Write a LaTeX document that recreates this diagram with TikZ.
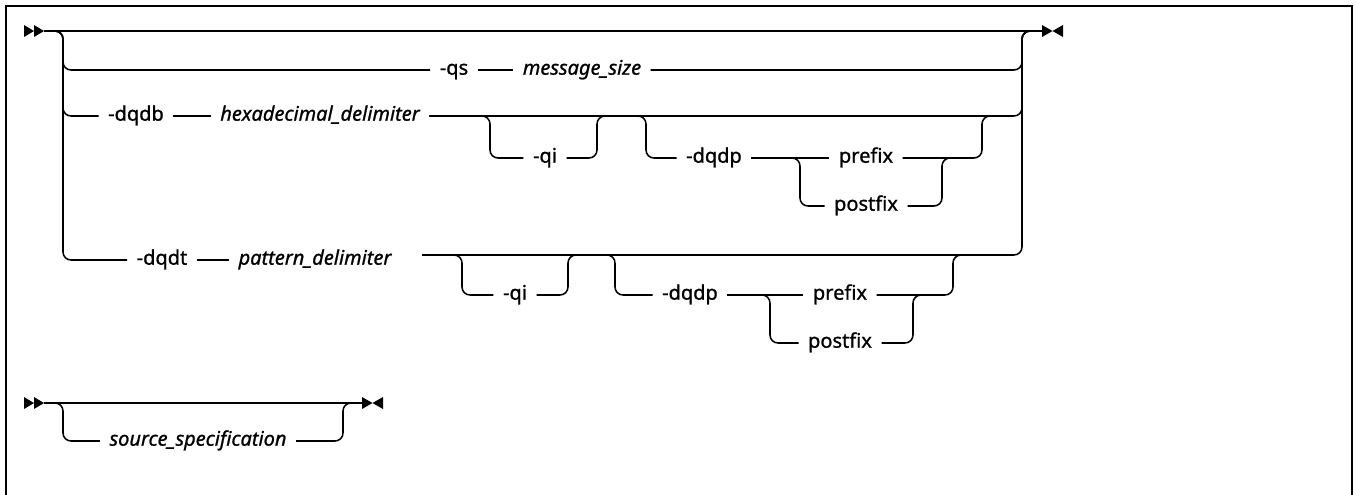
\documentclass[tikz,border=0pt]{standalone}
\usepackage{fontspec}
\setmainfont{Noto Sans}[FakeBold=1.0]
\begin{document}
\begin{tikzpicture}[x=0.75pt,y=-0.75pt,
  conn/.style={line width=1.15pt, rounded corners=6pt},
  kw/.style={inner xsep=7pt, inner ysep=0pt, text height=10pt, text depth=3pt,
    font=\fontsize{15}{18}\selectfont},
  var/.style={kw, font=\fontsize{15}{18}\selectfont\itshape},
  startmark/.pic={\fill (-20,-6) -- (-10,0) -- (-20,6) -- cycle;
                  \fill (-10,-6) -- (0,0) -- (-10,6) -- cycle;},
  endmark/.pic={\fill (0,-6) -- (10.5,0) -- (0,6) -- cycle;
                \fill (21,-6) -- (10.5,0) -- (21,6) -- cycle;}]
\useasboundingbox (0,0) rectangle (1356,494);
% frame
\draw[line width=1.8pt] (6,500) -- (6,6) -- (1352,6) -- (1352,500);

% coordinates
\coordinate (mL) at (44,31);  \coordinate (mR) at (1042,31);
\coordinate (lc) at (63,31);  \coordinate (rc) at (1022,31);
\coordinate (aQl) at (490,116); \coordinate (aQr) at (597,116);
\coordinate (aPl) at (646,116); \coordinate (aPr) at (982,116);
\coordinate (aCl) at (800,158); \coordinate (aCr) at (942,158);
\coordinate (r4)  at (422,255);
\coordinate (bQl) at (462,255); \coordinate (bQr) at (568,255);
\coordinate (bPl) at (615,255); \coordinate (bPr) at (953,255);
\coordinate (bCl) at (770,295); \coordinate (bCr) at (913,295);
\coordinate (sL) at (44,403); \coordinate (sR) at (362,403);
\coordinate (slc) at (63,403); \coordinate (src) at (343,403);

% nodes
\node[kw]  (qs)    at (454,70)  {-qs};
\node[var] (msg)   at (582,70)  {message\_size};
\node[kw]  (dqdb)  at (136,116) {-dqdb};
\node[var] (hex)   at (320,116) {hexadecimal\_delimiter};
\node[kw]  (qiA)   at (545,158) {-qi};
\node[kw]  (dqdpA) at (714,158) {-dqdp};
\node[kw]  (preA)  at (866,158) {prefix};
\node[kw]  (postA) at (866,206) {postfix};
\node[kw]  (dqdt)  at (162,260) {-dqdt};
\node[var] (pat)   at (315,260) {pattern\_delimiter};
\node[kw]  (qiB)   at (515,295) {-qi};
\node[kw]  (dqdpB) at (690,295) {-dqdp};
\node[kw]  (preB)  at (840,295) {prefix};
\node[kw]  (postB) at (840,343) {postfix};
\node[var] (ss)    at (198,441) {source\_specification};

% main line
\draw[conn] (mL) -- (mR);
\pic at (mL) {startmark};
\pic at (mR) {endmark};

% row 1
\draw[conn] (mL) -- (lc) -- (lc |- qs) -- (qs);
\draw[conn] (qs) -- (msg);
\draw[conn] (msg) -- (rc |- msg) -- (rc) -- (mR);

% row 2
\draw[conn] (mL) -- (lc) -- (lc |- dqdb) -- (dqdb);
\draw[conn] (dqdb) -- (hex);
\draw[conn] (hex) -- (rc |- hex) -- (rc) -- (mR);
\draw[conn] (hex) -- (aQl) -- (aQl |- qiA) -- (qiA);
\draw[conn] (qiA) -- (aQr |- qiA) -- (aQr) -- ([xshift=6pt]aQr);
\draw[conn] (aQr) -- (aPl) -- (aPl |- dqdpA) -- (dqdpA);
\draw[conn] (dqdpA) -- (preA);
\draw[conn] (dqdpA) -- (aCl) -- (aCl |- postA) -- (postA);
\draw[conn] (postA) -- (aCr |- postA) -- (aCr) -- ([xshift=6pt]aCr);
\draw[conn] (preA) -- (aPr |- preA) -- (aPr) -- ([xshift=6pt]aPr);

% row 4
\draw[conn] (mL) -- (lc) -- (lc |- dqdt) -- (dqdt);
\draw[conn] (dqdt) -- (pat);
\draw[conn] (r4) -- (rc |- r4) -- (rc) -- (mR);
\draw[conn] (r4) -- (bQl) -- (bQl |- qiB) -- (qiB);
\draw[conn] (qiB) -- (bQr |- qiB) -- (bQr) -- ([xshift=6pt]bQr);
\draw[conn] (bQr) -- (bPl) -- (bPl |- dqdpB) -- (dqdpB);
\draw[conn] (dqdpB) -- (preB);
\draw[conn] (dqdpB) -- (bCl) -- (bCl |- postB) -- (postB);
\draw[conn] (postB) -- (bCr |- postB) -- (bCr) -- ([xshift=6pt]bCr);
\draw[conn] (preB) -- (bPr |- preB) -- (bPr) -- ([xshift=6pt]bPr);

% source specification diagram
\draw[conn] (sL) -- (sR);
\pic at (sL) {startmark};
\pic at (sR) {endmark};
\draw[conn] (sL) -- (slc) -- (slc |- ss) -- (ss);
\draw[conn] (ss) -- (src |- ss) -- (src) -- (sR);
\end{tikzpicture}
\end{document}
